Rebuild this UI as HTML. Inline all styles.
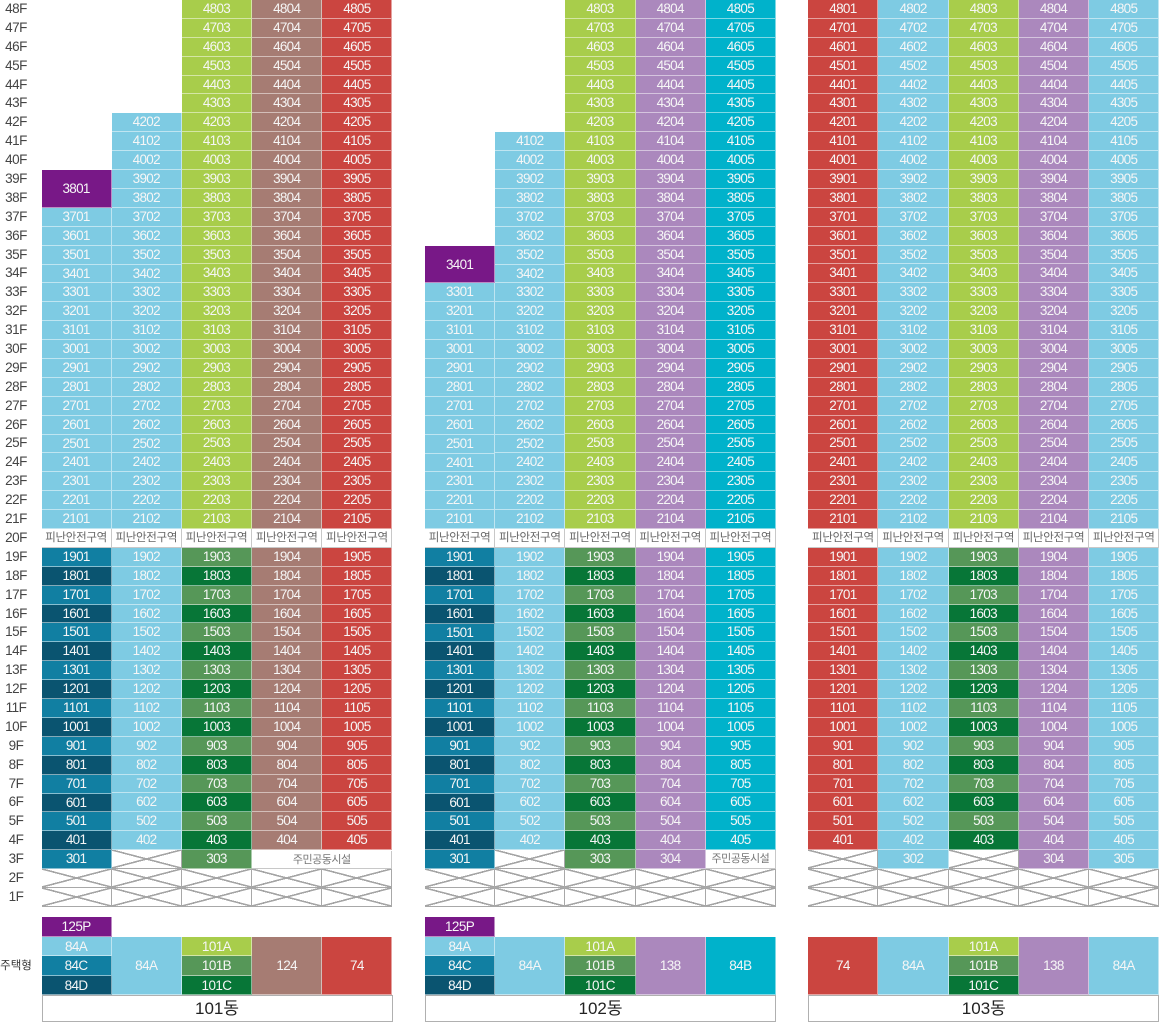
<!DOCTYPE html>
<html><head><meta charset="utf-8">
<style>
html,body{margin:0;padding:0;background:#fff;}
body{width:1160px;height:1023px;position:relative;overflow:hidden;font-family:"Liberation Sans","Noto Sans CJK KR",sans-serif;}
.fl{position:absolute;left:0;top:0;width:32px;}
.fl b{display:block;height:18.9px;line-height:18.9px;text-align:center;font-weight:normal;font-size:13.5px;color:#444;letter-spacing:-0.5px;}
.bd{position:absolute;top:0;width:351px;height:1023px;}
.col{position:absolute;width:70.2px;}
.col i{display:block;height:18.9px;line-height:18px;text-align:center;font-style:normal;color:#f6f6f6;font-size:13.5px;letter-spacing:-0.7px;box-sizing:border-box;border-bottom:1px solid rgba(255,255,255,.5);border-right:1px solid rgba(255,255,255,.5);white-space:nowrap;overflow:hidden;}
.col i.h2{height:37.8px;line-height:37px;}
.b{background:#7ecbe3}
.l{background:#a8cd4b}
.w{background:#a67c73}
.r{background:#cb4540}
.p{background:#781887}
.v{background:#ab88bd}
.c{background:#00b2cb}
.t{background:#117fa2}
.d{background:#0a5470}
.g{background:#569758}
.k{background:#077637}
.col i.e{background:#fff;color:#666;font-size:11.5px;letter-spacing:-0.3px;border-right:1px solid #c8c8c8;border-bottom:1px solid #c8c8c8;}
.col i.m{font-size:11px;color:#777;letter-spacing:-0.5px;}
.col i.x{border-right:1px solid #a8a8a8;border-bottom:1px solid #a8a8a8;background:
linear-gradient(to top right,transparent calc(50% - .8px),#a4a4a4 calc(50% - .8px),#a4a4a4 calc(50% + .8px),transparent calc(50% + .8px)),
linear-gradient(to bottom right,transparent calc(50% - .8px),#a4a4a4 calc(50% - .8px),#a4a4a4 calc(50% + .8px),transparent calc(50% + .8px)),#fff;}
.col i.n{background:#fff;border-right:none;}
.ov{position:absolute;height:18.9px;line-height:18px;text-align:center;background:#fff;color:#777;font-size:11px;letter-spacing:-0.5px;box-sizing:border-box;border-right:1px solid #c8c8c8;border-bottom:1px solid #c8c8c8;}
.lg{position:absolute;box-sizing:border-box;text-align:center;color:#f6f6f6;font-size:13.5px;border-right:1px solid rgba(255,255,255,.5);border-bottom:1px solid rgba(255,255,255,.5);letter-spacing:-0.6px;}
.nm{position:absolute;left:0;top:995.4px;width:351px;height:27px;box-sizing:border-box;border:1px solid #b0b0b0;background:#fff;text-align:center;line-height:25px;font-size:17px;color:#222;}
.hx{position:absolute;left:0;top:957px;width:32px;text-align:center;font-size:11.5px;color:#333;}
</style></head><body>

<div class="fl">
<b>48F</b><b>47F</b><b>46F</b><b>45F</b><b>44F</b><b>43F</b><b>42F</b><b>41F</b><b>40F</b><b>39F</b><b>38F</b><b>37F</b><b>36F</b><b>35F</b><b>34F</b><b>33F</b><b>32F</b><b>31F</b><b>30F</b><b>29F</b><b>28F</b><b>27F</b><b>26F</b><b>25F</b><b>24F</b><b>23F</b><b>22F</b><b>21F</b><b>20F</b><b>19F</b><b>18F</b><b>17F</b><b>16F</b><b>15F</b><b>14F</b><b>13F</b><b>12F</b><b>11F</b><b>10F</b><b>9F</b><b>8F</b><b>7F</b><b>6F</b><b>5F</b><b>4F</b><b>3F</b><b>2F</b><b>1F</b>
</div>
<div class="hx">주택형</div>

<!-- 101 -->
<div class="bd" style="left:41.5px">
<div class="col" style="left:0;top:170.1px">
<i class="p h2">3801</i>
<i class="b">3701</i><i class="b">3601</i><i class="b">3501</i><i class="b">3401</i><i class="b">3301</i><i class="b">3201</i><i class="b">3101</i><i class="b">3001</i><i class="b">2901</i><i class="b">2801</i><i class="b">2701</i><i class="b">2601</i><i class="b">2501</i><i class="b">2401</i><i class="b">2301</i><i class="b">2201</i><i class="b">2101</i>
<i class="e">피난안전구역</i>
<i class="t">1901</i><i class="d">1801</i><i class="t">1701</i><i class="d">1601</i><i class="t">1501</i><i class="d">1401</i><i class="t">1301</i><i class="d">1201</i><i class="t">1101</i><i class="d">1001</i><i class="t">901</i><i class="d">801</i><i class="t">701</i><i class="d">601</i><i class="t">501</i><i class="d">401</i><i class="t">301</i>
<i class="x"></i><i class="x"></i>
</div>
<div class="col" style="left:70.2px;top:113.4px">
<i class="b">4202</i><i class="b">4102</i><i class="b">4002</i><i class="b">3902</i><i class="b">3802</i><i class="b">3702</i><i class="b">3602</i><i class="b">3502</i><i class="b">3402</i><i class="b">3302</i><i class="b">3202</i><i class="b">3102</i><i class="b">3002</i><i class="b">2902</i><i class="b">2802</i><i class="b">2702</i><i class="b">2602</i><i class="b">2502</i><i class="b">2402</i><i class="b">2302</i><i class="b">2202</i><i class="b">2102</i>
<i class="e">피난안전구역</i>
<i class="b">1902</i><i class="b">1802</i><i class="b">1702</i><i class="b">1602</i><i class="b">1502</i><i class="b">1402</i><i class="b">1302</i><i class="b">1202</i><i class="b">1102</i><i class="b">1002</i><i class="b">902</i><i class="b">802</i><i class="b">702</i><i class="b">602</i><i class="b">502</i><i class="b">402</i>
<i class="x"></i><i class="x"></i><i class="x"></i>
</div>
<div class="col" style="left:140.4px;top:0">
<i class="l">4803</i><i class="l">4703</i><i class="l">4603</i><i class="l">4503</i><i class="l">4403</i><i class="l">4303</i><i class="l">4203</i><i class="l">4103</i><i class="l">4003</i><i class="l">3903</i><i class="l">3803</i><i class="l">3703</i><i class="l">3603</i><i class="l">3503</i><i class="l">3403</i><i class="l">3303</i><i class="l">3203</i><i class="l">3103</i><i class="l">3003</i><i class="l">2903</i><i class="l">2803</i><i class="l">2703</i><i class="l">2603</i><i class="l">2503</i><i class="l">2403</i><i class="l">2303</i><i class="l">2203</i><i class="l">2103</i>
<i class="e">피난안전구역</i>
<i class="g">1903</i><i class="k">1803</i><i class="g">1703</i><i class="k">1603</i><i class="g">1503</i><i class="k">1403</i><i class="g">1303</i><i class="k">1203</i><i class="g">1103</i><i class="k">1003</i><i class="g">903</i><i class="k">803</i><i class="g">703</i><i class="k">603</i><i class="g">503</i><i class="k">403</i><i class="g">303</i>
<i class="x"></i><i class="x"></i>
</div>
<div class="col" style="left:210.6px;top:0">
<i class="w">4804</i><i class="w">4704</i><i class="w">4604</i><i class="w">4504</i><i class="w">4404</i><i class="w">4304</i><i class="w">4204</i><i class="w">4104</i><i class="w">4004</i><i class="w">3904</i><i class="w">3804</i><i class="w">3704</i><i class="w">3604</i><i class="w">3504</i><i class="w">3404</i><i class="w">3304</i><i class="w">3204</i><i class="w">3104</i><i class="w">3004</i><i class="w">2904</i><i class="w">2804</i><i class="w">2704</i><i class="w">2604</i><i class="w">2504</i><i class="w">2404</i><i class="w">2304</i><i class="w">2204</i><i class="w">2104</i>
<i class="e">피난안전구역</i>
<i class="w">1904</i><i class="w">1804</i><i class="w">1704</i><i class="w">1604</i><i class="w">1504</i><i class="w">1404</i><i class="w">1304</i><i class="w">1204</i><i class="w">1104</i><i class="w">1004</i><i class="w">904</i><i class="w">804</i><i class="w">704</i><i class="w">604</i><i class="w">504</i><i class="w">404</i>
<i class="n"></i>
<i class="x"></i><i class="x"></i>
</div>
<div class="col" style="left:280.8px;top:0">
<i class="r">4805</i><i class="r">4705</i><i class="r">4605</i><i class="r">4505</i><i class="r">4405</i><i class="r">4305</i><i class="r">4205</i><i class="r">4105</i><i class="r">4005</i><i class="r">3905</i><i class="r">3805</i><i class="r">3705</i><i class="r">3605</i><i class="r">3505</i><i class="r">3405</i><i class="r">3305</i><i class="r">3205</i><i class="r">3105</i><i class="r">3005</i><i class="r">2905</i><i class="r">2805</i><i class="r">2705</i><i class="r">2605</i><i class="r">2505</i><i class="r">2405</i><i class="r">2305</i><i class="r">2205</i><i class="r">2105</i>
<i class="e">피난안전구역</i>
<i class="r">1905</i><i class="r">1805</i><i class="r">1705</i><i class="r">1605</i><i class="r">1505</i><i class="r">1405</i><i class="r">1305</i><i class="r">1205</i><i class="r">1105</i><i class="r">1005</i><i class="r">905</i><i class="r">805</i><i class="r">705</i><i class="r">605</i><i class="r">505</i><i class="r">405</i>
<i class="n"></i>
<i class="x"></i><i class="x"></i>
</div>
<div class="ov" style="left:210.6px;top:850.5px;width:140.4px">주민공동시설</div>
<!-- legend -->
<div class="lg p" style="left:0;top:917px;width:70.2px;height:19.6px;line-height:19px">125P</div>
<div class="lg b" style="left:0;top:936.6px;width:70.2px;height:19.6px;line-height:19px">84A</div>
<div class="lg t" style="left:0;top:956.2px;width:70.2px;height:19.6px;line-height:19px">84C</div>
<div class="lg d" style="left:0;top:975.8px;width:70.2px;height:19.6px;line-height:19px">84D</div>
<div class="lg b" style="left:70.2px;top:936.6px;width:70.2px;height:58.8px;line-height:58px">84A</div>
<div class="lg l" style="left:140.4px;top:936.6px;width:70.2px;height:19.6px;line-height:19px">101A</div>
<div class="lg g" style="left:140.4px;top:956.2px;width:70.2px;height:19.6px;line-height:19px">101B</div>
<div class="lg k" style="left:140.4px;top:975.8px;width:70.2px;height:19.6px;line-height:19px">101C</div>
<div class="lg w" style="left:210.6px;top:936.6px;width:70.2px;height:58.8px;line-height:58px">124</div>
<div class="lg r" style="left:280.8px;top:936.6px;width:70.2px;height:58.8px;line-height:58px">74</div>
<div class="nm">101동</div>
</div>

<!-- 102 -->
<div class="bd" style="left:425px">
<div class="col" style="left:0;top:245.7px">
<i class="p h2">3401</i>
<i class="b">3301</i><i class="b">3201</i><i class="b">3101</i><i class="b">3001</i><i class="b">2901</i><i class="b">2801</i><i class="b">2701</i><i class="b">2601</i><i class="b">2501</i><i class="b">2401</i><i class="b">2301</i><i class="b">2201</i><i class="b">2101</i>
<i class="e">피난안전구역</i>
<i class="t">1901</i><i class="d">1801</i><i class="t">1701</i><i class="d">1601</i><i class="t">1501</i><i class="d">1401</i><i class="t">1301</i><i class="d">1201</i><i class="t">1101</i><i class="d">1001</i><i class="t">901</i><i class="d">801</i><i class="t">701</i><i class="d">601</i><i class="t">501</i><i class="d">401</i><i class="t">301</i>
<i class="x"></i><i class="x"></i>
</div>
<div class="col" style="left:70.2px;top:132.3px">
<i class="b">4102</i><i class="b">4002</i><i class="b">3902</i><i class="b">3802</i><i class="b">3702</i><i class="b">3602</i><i class="b">3502</i><i class="b">3402</i><i class="b">3302</i><i class="b">3202</i><i class="b">3102</i><i class="b">3002</i><i class="b">2902</i><i class="b">2802</i><i class="b">2702</i><i class="b">2602</i><i class="b">2502</i><i class="b">2402</i><i class="b">2302</i><i class="b">2202</i><i class="b">2102</i>
<i class="e">피난안전구역</i>
<i class="b">1902</i><i class="b">1802</i><i class="b">1702</i><i class="b">1602</i><i class="b">1502</i><i class="b">1402</i><i class="b">1302</i><i class="b">1202</i><i class="b">1102</i><i class="b">1002</i><i class="b">902</i><i class="b">802</i><i class="b">702</i><i class="b">602</i><i class="b">502</i><i class="b">402</i>
<i class="x"></i><i class="x"></i><i class="x"></i>
</div>
<div class="col" style="left:140.4px;top:0">
<i class="l">4803</i><i class="l">4703</i><i class="l">4603</i><i class="l">4503</i><i class="l">4403</i><i class="l">4303</i><i class="l">4203</i><i class="l">4103</i><i class="l">4003</i><i class="l">3903</i><i class="l">3803</i><i class="l">3703</i><i class="l">3603</i><i class="l">3503</i><i class="l">3403</i><i class="l">3303</i><i class="l">3203</i><i class="l">3103</i><i class="l">3003</i><i class="l">2903</i><i class="l">2803</i><i class="l">2703</i><i class="l">2603</i><i class="l">2503</i><i class="l">2403</i><i class="l">2303</i><i class="l">2203</i><i class="l">2103</i>
<i class="e">피난안전구역</i>
<i class="g">1903</i><i class="k">1803</i><i class="g">1703</i><i class="k">1603</i><i class="g">1503</i><i class="k">1403</i><i class="g">1303</i><i class="k">1203</i><i class="g">1103</i><i class="k">1003</i><i class="g">903</i><i class="k">803</i><i class="g">703</i><i class="k">603</i><i class="g">503</i><i class="k">403</i><i class="g">303</i>
<i class="x"></i><i class="x"></i>
</div>
<div class="col" style="left:210.6px;top:0">
<i class="v">4804</i><i class="v">4704</i><i class="v">4604</i><i class="v">4504</i><i class="v">4404</i><i class="v">4304</i><i class="v">4204</i><i class="v">4104</i><i class="v">4004</i><i class="v">3904</i><i class="v">3804</i><i class="v">3704</i><i class="v">3604</i><i class="v">3504</i><i class="v">3404</i><i class="v">3304</i><i class="v">3204</i><i class="v">3104</i><i class="v">3004</i><i class="v">2904</i><i class="v">2804</i><i class="v">2704</i><i class="v">2604</i><i class="v">2504</i><i class="v">2404</i><i class="v">2304</i><i class="v">2204</i><i class="v">2104</i>
<i class="e">피난안전구역</i>
<i class="v">1904</i><i class="v">1804</i><i class="v">1704</i><i class="v">1604</i><i class="v">1504</i><i class="v">1404</i><i class="v">1304</i><i class="v">1204</i><i class="v">1104</i><i class="v">1004</i><i class="v">904</i><i class="v">804</i><i class="v">704</i><i class="v">604</i><i class="v">504</i><i class="v">404</i><i class="v">304</i>
<i class="x"></i><i class="x"></i>
</div>
<div class="col" style="left:280.8px;top:0">
<i class="c">4805</i><i class="c">4705</i><i class="c">4605</i><i class="c">4505</i><i class="c">4405</i><i class="c">4305</i><i class="c">4205</i><i class="c">4105</i><i class="c">4005</i><i class="c">3905</i><i class="c">3805</i><i class="c">3705</i><i class="c">3605</i><i class="c">3505</i><i class="c">3405</i><i class="c">3305</i><i class="c">3205</i><i class="c">3105</i><i class="c">3005</i><i class="c">2905</i><i class="c">2805</i><i class="c">2705</i><i class="c">2605</i><i class="c">2505</i><i class="c">2405</i><i class="c">2305</i><i class="c">2205</i><i class="c">2105</i>
<i class="e">피난안전구역</i>
<i class="c">1905</i><i class="c">1805</i><i class="c">1705</i><i class="c">1605</i><i class="c">1505</i><i class="c">1405</i><i class="c">1305</i><i class="c">1205</i><i class="c">1105</i><i class="c">1005</i><i class="c">905</i><i class="c">805</i><i class="c">705</i><i class="c">605</i><i class="c">505</i><i class="c">405</i>
<i class="e m">주민공동시설</i>
<i class="x"></i><i class="x"></i>
</div>
<!-- legend -->
<div class="lg p" style="left:0;top:917px;width:70.2px;height:19.6px;line-height:19px">125P</div>
<div class="lg b" style="left:0;top:936.6px;width:70.2px;height:19.6px;line-height:19px">84A</div>
<div class="lg t" style="left:0;top:956.2px;width:70.2px;height:19.6px;line-height:19px">84C</div>
<div class="lg d" style="left:0;top:975.8px;width:70.2px;height:19.6px;line-height:19px">84D</div>
<div class="lg b" style="left:70.2px;top:936.6px;width:70.2px;height:58.8px;line-height:58px">84A</div>
<div class="lg l" style="left:140.4px;top:936.6px;width:70.2px;height:19.6px;line-height:19px">101A</div>
<div class="lg g" style="left:140.4px;top:956.2px;width:70.2px;height:19.6px;line-height:19px">101B</div>
<div class="lg k" style="left:140.4px;top:975.8px;width:70.2px;height:19.6px;line-height:19px">101C</div>
<div class="lg v" style="left:210.6px;top:936.6px;width:70.2px;height:58.8px;line-height:58px">138</div>
<div class="lg c" style="left:280.8px;top:936.6px;width:70.2px;height:58.8px;line-height:58px">84B</div>
<div class="nm">102동</div>
</div>

<!-- 103 -->
<div class="bd" style="left:808.3px">
<div class="col" style="left:0;top:0">
<i class="r">4801</i><i class="r">4701</i><i class="r">4601</i><i class="r">4501</i><i class="r">4401</i><i class="r">4301</i><i class="r">4201</i><i class="r">4101</i><i class="r">4001</i><i class="r">3901</i><i class="r">3801</i><i class="r">3701</i><i class="r">3601</i><i class="r">3501</i><i class="r">3401</i><i class="r">3301</i><i class="r">3201</i><i class="r">3101</i><i class="r">3001</i><i class="r">2901</i><i class="r">2801</i><i class="r">2701</i><i class="r">2601</i><i class="r">2501</i><i class="r">2401</i><i class="r">2301</i><i class="r">2201</i><i class="r">2101</i>
<i class="e">피난안전구역</i>
<i class="r">1901</i><i class="r">1801</i><i class="r">1701</i><i class="r">1601</i><i class="r">1501</i><i class="r">1401</i><i class="r">1301</i><i class="r">1201</i><i class="r">1101</i><i class="r">1001</i><i class="r">901</i><i class="r">801</i><i class="r">701</i><i class="r">601</i><i class="r">501</i><i class="r">401</i>
<i class="x"></i><i class="x"></i><i class="x"></i>
</div>
<div class="col" style="left:70.2px;top:0">
<i class="b">4802</i><i class="b">4702</i><i class="b">4602</i><i class="b">4502</i><i class="b">4402</i><i class="b">4302</i><i class="b">4202</i><i class="b">4102</i><i class="b">4002</i><i class="b">3902</i><i class="b">3802</i><i class="b">3702</i><i class="b">3602</i><i class="b">3502</i><i class="b">3402</i><i class="b">3302</i><i class="b">3202</i><i class="b">3102</i><i class="b">3002</i><i class="b">2902</i><i class="b">2802</i><i class="b">2702</i><i class="b">2602</i><i class="b">2502</i><i class="b">2402</i><i class="b">2302</i><i class="b">2202</i><i class="b">2102</i>
<i class="e">피난안전구역</i>
<i class="b">1902</i><i class="b">1802</i><i class="b">1702</i><i class="b">1602</i><i class="b">1502</i><i class="b">1402</i><i class="b">1302</i><i class="b">1202</i><i class="b">1102</i><i class="b">1002</i><i class="b">902</i><i class="b">802</i><i class="b">702</i><i class="b">602</i><i class="b">502</i><i class="b">402</i><i class="b">302</i>
<i class="x"></i><i class="x"></i>
</div>
<div class="col" style="left:140.4px;top:0">
<i class="l">4803</i><i class="l">4703</i><i class="l">4603</i><i class="l">4503</i><i class="l">4403</i><i class="l">4303</i><i class="l">4203</i><i class="l">4103</i><i class="l">4003</i><i class="l">3903</i><i class="l">3803</i><i class="l">3703</i><i class="l">3603</i><i class="l">3503</i><i class="l">3403</i><i class="l">3303</i><i class="l">3203</i><i class="l">3103</i><i class="l">3003</i><i class="l">2903</i><i class="l">2803</i><i class="l">2703</i><i class="l">2603</i><i class="l">2503</i><i class="l">2403</i><i class="l">2303</i><i class="l">2203</i><i class="l">2103</i>
<i class="e">피난안전구역</i>
<i class="g">1903</i><i class="k">1803</i><i class="g">1703</i><i class="k">1603</i><i class="g">1503</i><i class="k">1403</i><i class="g">1303</i><i class="k">1203</i><i class="g">1103</i><i class="k">1003</i><i class="g">903</i><i class="k">803</i><i class="g">703</i><i class="k">603</i><i class="g">503</i><i class="k">403</i>
<i class="x"></i><i class="x"></i><i class="x"></i>
</div>
<div class="col" style="left:210.6px;top:0">
<i class="v">4804</i><i class="v">4704</i><i class="v">4604</i><i class="v">4504</i><i class="v">4404</i><i class="v">4304</i><i class="v">4204</i><i class="v">4104</i><i class="v">4004</i><i class="v">3904</i><i class="v">3804</i><i class="v">3704</i><i class="v">3604</i><i class="v">3504</i><i class="v">3404</i><i class="v">3304</i><i class="v">3204</i><i class="v">3104</i><i class="v">3004</i><i class="v">2904</i><i class="v">2804</i><i class="v">2704</i><i class="v">2604</i><i class="v">2504</i><i class="v">2404</i><i class="v">2304</i><i class="v">2204</i><i class="v">2104</i>
<i class="e">피난안전구역</i>
<i class="v">1904</i><i class="v">1804</i><i class="v">1704</i><i class="v">1604</i><i class="v">1504</i><i class="v">1404</i><i class="v">1304</i><i class="v">1204</i><i class="v">1104</i><i class="v">1004</i><i class="v">904</i><i class="v">804</i><i class="v">704</i><i class="v">604</i><i class="v">504</i><i class="v">404</i><i class="v">304</i>
<i class="x"></i><i class="x"></i>
</div>
<div class="col" style="left:280.8px;top:0">
<i class="b">4805</i><i class="b">4705</i><i class="b">4605</i><i class="b">4505</i><i class="b">4405</i><i class="b">4305</i><i class="b">4205</i><i class="b">4105</i><i class="b">4005</i><i class="b">3905</i><i class="b">3805</i><i class="b">3705</i><i class="b">3605</i><i class="b">3505</i><i class="b">3405</i><i class="b">3305</i><i class="b">3205</i><i class="b">3105</i><i class="b">3005</i><i class="b">2905</i><i class="b">2805</i><i class="b">2705</i><i class="b">2605</i><i class="b">2505</i><i class="b">2405</i><i class="b">2305</i><i class="b">2205</i><i class="b">2105</i>
<i class="e">피난안전구역</i>
<i class="b">1905</i><i class="b">1805</i><i class="b">1705</i><i class="b">1605</i><i class="b">1505</i><i class="b">1405</i><i class="b">1305</i><i class="b">1205</i><i class="b">1105</i><i class="b">1005</i><i class="b">905</i><i class="b">805</i><i class="b">705</i><i class="b">605</i><i class="b">505</i><i class="b">405</i><i class="b">305</i>
<i class="x"></i><i class="x"></i>
</div>
<!-- legend -->
<div class="lg r" style="left:0;top:936.6px;width:70.2px;height:58.8px;line-height:58px">74</div>
<div class="lg b" style="left:70.2px;top:936.6px;width:70.2px;height:58.8px;line-height:58px">84A</div>
<div class="lg l" style="left:140.4px;top:936.6px;width:70.2px;height:19.6px;line-height:19px">101A</div>
<div class="lg g" style="left:140.4px;top:956.2px;width:70.2px;height:19.6px;line-height:19px">101B</div>
<div class="lg k" style="left:140.4px;top:975.8px;width:70.2px;height:19.6px;line-height:19px">101C</div>
<div class="lg v" style="left:210.6px;top:936.6px;width:70.2px;height:58.8px;line-height:58px">138</div>
<div class="lg b" style="left:280.8px;top:936.6px;width:70.2px;height:58.8px;line-height:58px">84A</div>
<div class="nm">103동</div>
</div>

</body></html>
